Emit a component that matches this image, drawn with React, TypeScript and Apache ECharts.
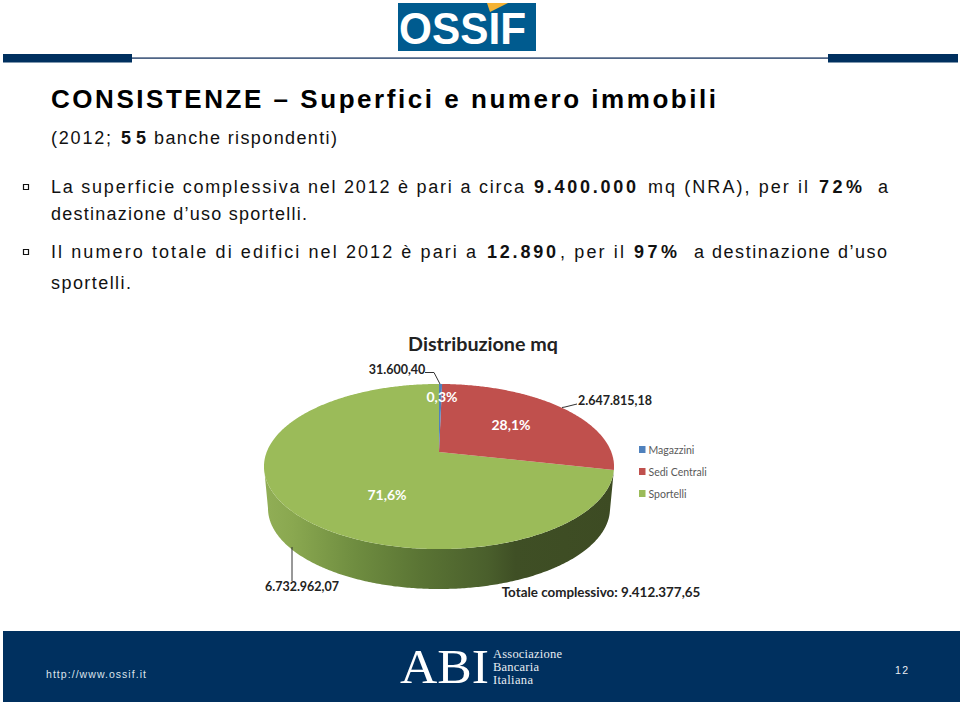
import React, { useEffect, useRef } from "react";
import * as echarts from "echarts";

const sliceNames = ["Magazzini", "Sedi Centrali", "Sportelli"];
const sliceValues = [31600.4, 2647815.18, 6732962.07];
const sliceColors = ["#4f81bd", "#c0504d", "#9bbb59"];

const SANS = '"Liberation Sans"';
const CAL = "Lato";

// text, x, y, width, bold
const titleRuns: [string, number, number, number, boolean][] = [
  ["CONSISTENZE – Superfici e numero immobili", 51, 99, 665, true],
];
const bodyRuns: [string, number, number, number, boolean][] = [
  ["(2012;", 51, 138, 60, false],
  ["55", 121, 138, 25, true],
  ["banche rispondenti)", 154, 138, 183, false],
  ["La superficie complessiva nel 2012 è pari a circa", 51, 187, 473, false],
  ["9.400.000", 534, 187, 102, true],
  ["mq (NRA), per il", 648, 187, 160, false],
  ["72%", 819, 187, 43, true],
  ["a", 878, 187, 10, false],
  ["destinazione d’uso sportelli.", 51, 214, 256, false],
  ["Il numero totale di edifici nel 2012 è pari a", 51, 252, 425, false],
  ["12.890", 487, 252, 69, true],
  [", per il", 560, 252, 64, false],
  ["97%", 634, 252, 43, true],
  ["a destinazione d’uso", 694, 252, 193, false],
  ["sportelli.", 51, 283, 80, false],
];
const percentLabels: [string, number, number][] = [
  ["0,3%", 442, 396],
  ["28,1%", 511, 424],
  ["71,6%", 387, 494],
];
const valueLabels: [string, number, number][] = [
  ["31.600,40", 397, 369],
  ["2.647.815,18", 615, 400],
  ["6.732.962,07", 302, 586],
];
const totalLabel = "Totale complessivo: 9.412.377,65";
const chartTitle = "Distribuzione mq";
const footerUrl = "http://www.ossif.it";
const pageNumber = "12";
const abiLines: [string, number, number][] = [["Associazione", 654, 69], ["Bancaria", 667, 46], ["Italiana", 680, 40]];

// Perspective disc: face centre and the projective constants
const CX = 439, CY = 452, A = 80, P = 0.1758, C = 172.3;
const DROP = 494.2, SHRINK = 0.977;
const total = sliceValues.reduce((a, b) => a + b, 0);

function rim(t: number, cy = CY, k = 1): [number, number] {
  const u = Math.sin(t), v = Math.cos(t), w = 1 + P * v;
  return [CX + (k * C * u) / w, cy - (k * A * v) / w];
}
function arcPts(a: number, b: number, cy = CY, k = 1) {
  const n = Math.max(2, Math.ceil(Math.abs(b - a) / 0.01));
  const out: [number, number][] = [];
  for (let i = 0; i <= n; i++) out.push(rim(a + ((b - a) * i) / n, cy, k));
  return out;
}
const sideStops = [
  { offset: 0, color: "#91ae56" },
  { offset: 0.08, color: "#8aa850" },
  { offset: 0.26, color: "#6f8d40" },
  { offset: 0.45, color: "#5a7434" },
  { offset: 0.64, color: "#4a5f2c" },
  { offset: 0.72, color: "#3f4f25" },
  { offset: 1, color: "#3d4b23" },
];

function sliceSeries(i: number) {
  const before = sliceValues.slice(0, i).reduce((a, b) => a + b, 0);
  return {
    type: "custom",
    name: sliceNames[i],
    coordinateSystem: "none",
    silent: true,
    z: 3,
    itemStyle: { color: sliceColors[i] },
    data: [[sliceValues[i]]],
    renderItem: (_: any, api: any) => {
      const a0 = (before / total) * 2 * Math.PI;
      const a1 = a0 + (api.value(0) / total) * 2 * Math.PI;
      const children: any[] = [];
      if (a1 > Math.PI) {
        const end = Math.min(a1, 2 * Math.PI - 1.747);
        children.push({
          type: "polygon",
          shape: { points: [...arcPts(a0, end), ...arcPts(end, a0, DROP, SHRINK)] },
          style: { fill: new echarts.graphic.LinearGradient(264, 0, 613, 0, sideStops, true) },
        });
      }
      children.push({
        type: "polygon",
        shape: { points: [[CX, CY], ...arcPts(a0, a1)] },
        style: { fill: sliceColors[i] },
      });
      return { type: "group", children };
    },
  };
}

function txt(text: string, x: number, y: number, font: string, fill: string, align = "left") {
  return { type: "text", z: 10, silent: true, style: { text, x, y, font, fill, align, verticalAlign: "middle" } };
}
function leader(points: number[][]) {
  return { type: "polyline", z: 9, silent: true, shape: { points }, style: { stroke: "#333", lineWidth: 1, fill: "none" } };
}
function block(x: number, y: number, width: number, height: number, fill: string) {
  return { type: "rect", silent: true, shape: { x, y, width, height }, style: { fill } };
}

export default function App() {
  const ref = useRef<HTMLDivElement>(null);
  useEffect(() => {
    const chart = echarts.init(ref.current!, null, { renderer: "svg" });
    chart.setOption({
      animation: false,
      backgroundColor: "#fff",
      legend: {
        left: 639, top: 443, padding: 0, orient: "vertical", itemWidth: 6.5, itemHeight: 7, itemGap: 9,
        icon: "rect", selectedMode: false, data: sliceNames,
        textStyle: { fontFamily: CAL, fontSize: 10.5, lineHeight: 13, color: "#595959", padding: [0, 0, 0, -2] },
      },
      series: [2, 1, 0].map(sliceSeries),
      graphic: [
        block(3, 57.3, 825, 1.6, "#4f6586"),
        block(3, 54, 129, 8.5, "#00305f"),
        block(828, 54, 130, 8.5, "#00305f"),
        block(398, 3, 138, 48, "#005b8f"),
        { type: "polygon", z: 10, silent: true, shape: { points: [[487, 3], [508, 3], [490, 12]] }, style: { fill: "#f5b335" } },
        txt("OSSIF", 399, 28.5, `bold 45px ${SANS}`, "#fff"),
        block(3, 631, 957, 71, "#00305f"),
        txt(footerUrl, 46, 674, `10.5px ${SANS}`, "#dbe3ec"),
        txt(pageNumber, 895, 670, `10.5px ${SANS}`, "#e8edf3"),
        txt("ABI", 400, 666, `49px "Liberation Serif"`, "#fff"),
        ...abiLines.map(([t, y]) => txt(t, 493, y, `12.5px "Liberation Serif"`, "#e8edf3")),
        ...[187, 252].map((y) => ({ type: "rect", silent: true, shape: { x: 23.5, y: y - 2.5, width: 5, height: 5 }, style: { fill: "#fff", stroke: "#111", lineWidth: 1.2 } })),
        ...titleRuns.map(([t, x, y, , b]) => txt(t, x, y, `${b ? "bold " : ""}26px ${SANS}`, "#000")),
        ...bodyRuns.map(([t, x, y, , b]) => txt(t, x, y, `${b ? "bold " : ""}18px ${SANS}`, "#111")),
        txt(chartTitle, 483, 343, `bold 19.7px ${CAL}`, "#222", "center"),
        ...percentLabels.map(([t, x, y]) => txt(t, x, y, `bold 14px ${CAL}`, "#fff", "center")),
        ...valueLabels.map(([t, x, y]) => txt(t, x, y, `bold 12.5px ${CAL}`, "#222", "center")),
        txt(totalLabel, 601, 592, `bold 13.4px ${CAL}`, "#222", "center"),
        leader([[425, 372.5], [434, 372.5], [440, 384]]),
        leader([[577, 404], [565, 407], [562, 407.5]]),
        leader([[292, 547], [292, 581]]),
      ],
    });
    const widths = new Map<string, number>([
      ...[...titleRuns, ...bodyRuns].map((r) => [r[0], r[3]] as [string, number]),
      ...abiLines.map((r) => [r[0], r[2]] as [string, number]),
      [footerUrl, 100],
      [pageNumber, 13],
    ]);
    const stretched = new Map<string, number>([["ABI", 89], ["OSSIF", 127]]);
    ref.current!.querySelectorAll("text").forEach((el) => {
      const content = el.textContent || "";
      const w = widths.get(content);
      if (w) { el.setAttribute("textLength", String(w)); el.setAttribute("lengthAdjust", "spacing"); }
      const s = stretched.get(content);
      if (s) { el.setAttribute("textLength", String(s)); el.setAttribute("lengthAdjust", "spacingAndGlyphs"); }
    });
    return () => chart.dispose();
  }, []);
  return <div ref={ref} style={{ position: "absolute", left: 0, top: 0, width: 960, height: 702 }} />;
}
